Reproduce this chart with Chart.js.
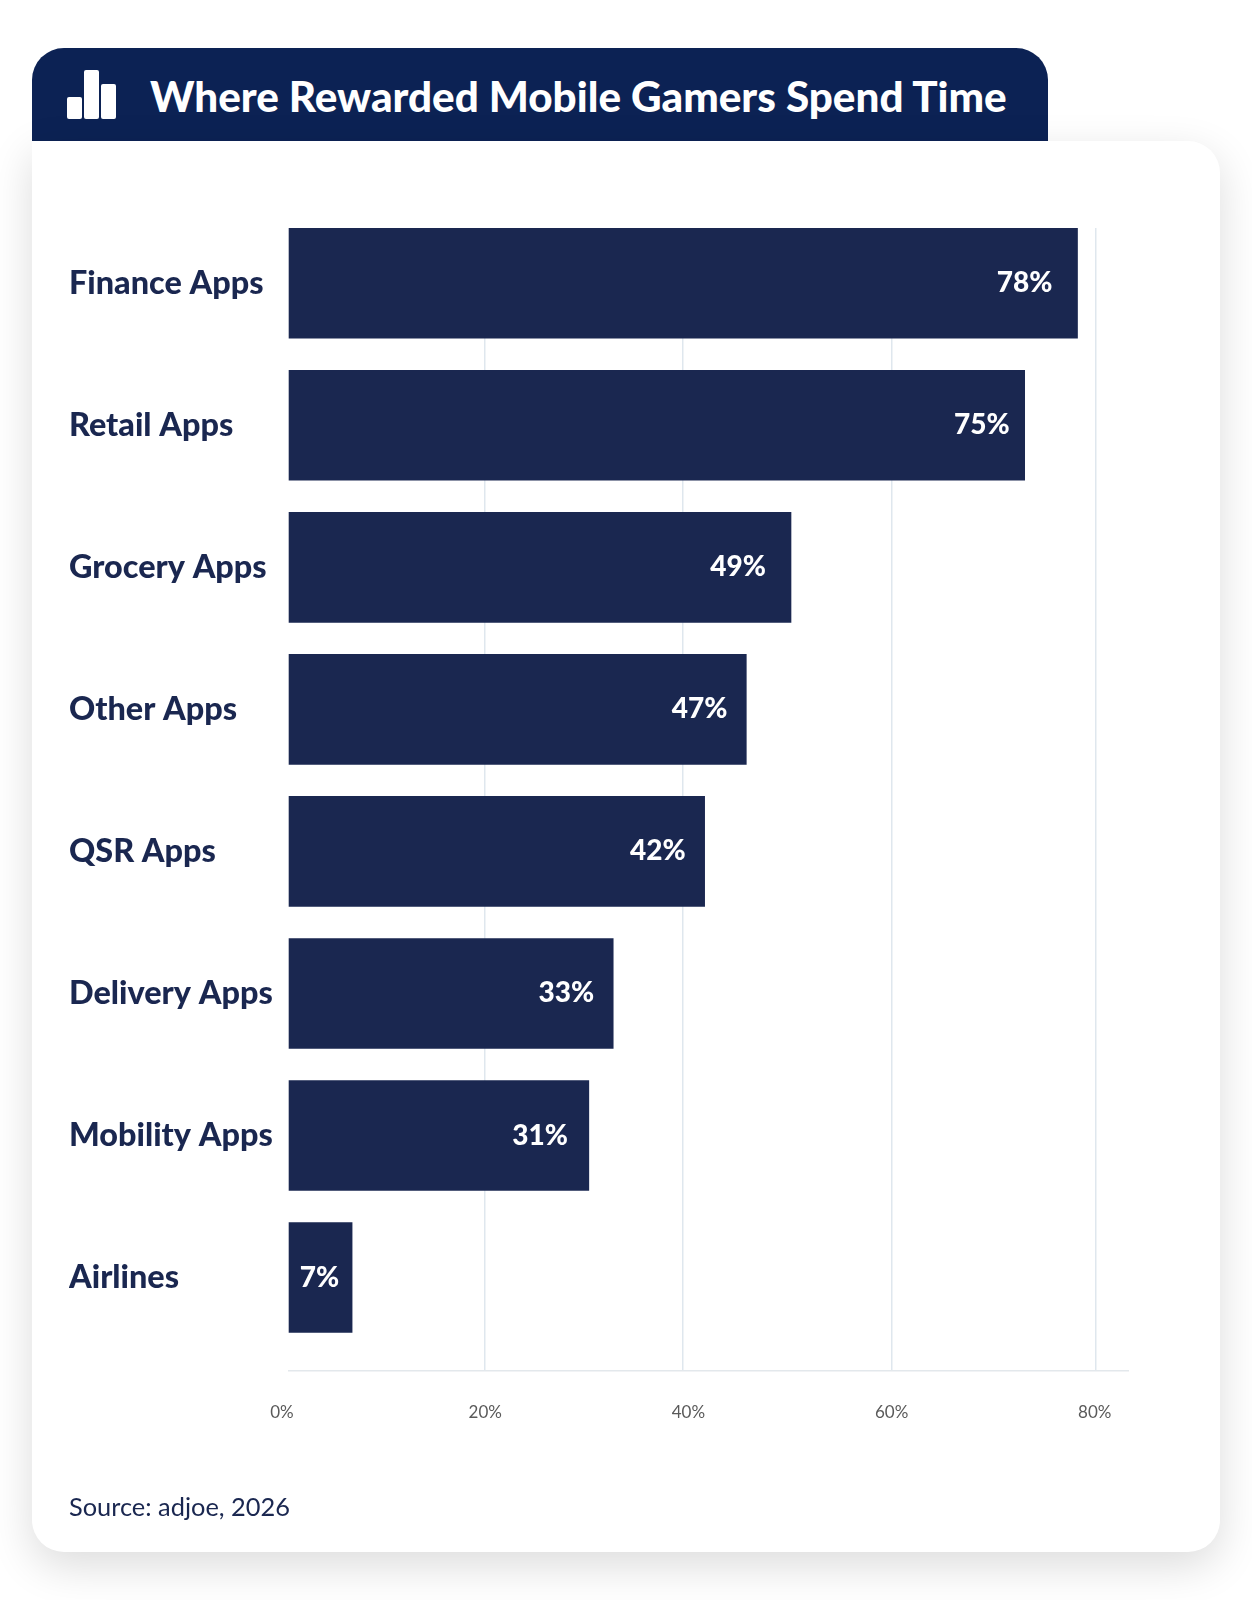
<!DOCTYPE html>
<html lang="en">
<head>
<meta charset="UTF-8">
<title>Where Rewarded Mobile Gamers Spend Time</title>
<style>
    html, body { margin: 0; background: #fff; }
    #page { position: relative; width: 1252px; height: 1600px; overflow: hidden; font-family: Lato, sans-serif; }
    .tab { position: absolute; left: 32px; top: 48px; width: 1016px; height: 93px; background: #0c2254; border-radius: 32px 32px 0 0; }
    .tab h1 { position: absolute; left: 118px; top: 0; margin: 0; line-height: 96px; font-size: 42.2px; font-weight: 900; color: #fff; white-space: nowrap; }
    .icon span { position: absolute; bottom: 22px; width: 14.7px; background: #fff; border-radius: 2px; }
    .card { position: absolute; left: 32px; top: 141px; width: 1188px; height: 1411px; background: #fff; border-radius: 0 32px 32px 32px; box-shadow: 0 14px 44px rgba(0,0,0,0.14); }
    .source { position: absolute; left: 69px; top: 1491px; font-size: 25.4px; color: #1a2750; }
    canvas { position: absolute; left: 0; top: 0; }
</style>
</head>
<body>
<div id="page">
    <div class="tab">
        <div class="icon">
            <span style="left:35.3px;height:22px"></span>
            <span style="left:52px;height:49px"></span>
            <span style="left:69px;height:35px"></span>
        </div>
        <h1>Where Rewarded Mobile Gamers Spend Time</h1>
    </div>
    <div class="card"></div>
    <canvas id="bar_chart" width="1252" height="1600"></canvas>
    <div class="source">Source: adjoe, 2026</div>
</div>

<script src="https://cdn.jsdelivr.net/npm/chart.js"></script>
<script>
    const categories = ['Finance Apps', 'Retail Apps', 'Grocery Apps', 'Other Apps', 'QSR Apps', 'Delivery Apps', 'Mobility Apps', 'Airlines'];
    // the printed numbers and the drawn bar lengths differ in the picture, so both are kept
    const printed_values = [78, 75, 49, 47, 42, 33, 31, 7];
    const bar_lengths = [78.3, 73.1, 50.1, 45.7, 41.6, 32.6, 30.2, 6.9];
    const tick_values = [0, 20, 40, 60, 80];
    // the gridlines do not sit exactly on their labels in the picture
    const grid_values = [20, 39.4, 60, 80.1];

    const label_insets = [25, 15, 25, 19, 19, 19, 21, 13];
    const navy = '#1a2750';

    // writes the percentage inside the right end of each bar
    const bar_labels = {
        id: 'bar_labels',
        afterDatasetsDraw(chart) {
            const ctx = chart.ctx;
            ctx.save();
            ctx.fillStyle = '#fff';
            ctx.font = '900 28px Lato';
            ctx.textBaseline = 'middle';
            ctx.textAlign = 'right';
            chart.getDatasetMeta(0).data.forEach((bar, i) => {
                ctx.fillText(printed_values[i] + '%', bar.x - label_insets[i], bar.y);
            });
            ctx.restore();
        }
    };

    new Chart(document.getElementById('bar_chart'), {
        type: 'bar',
        data: {
            datasets: [{
                data: bar_lengths.map((v, i) => ({ x: v, y: i })),
                backgroundColor: navy,
                barThickness: 110
            }]
        },
        plugins: [bar_labels],
        options: {
            indexAxis: 'y',
            responsive: false,
            animation: false,
            layout: { padding: { left: 69, right: 124, top: 228, bottom: 0 } },
            plugins: { legend: { display: false }, tooltip: { enabled: false } },
            scales: {
                x: {
                    type: 'linear',
                    min: 0.66,
                    max: 83.27,
                    weight: 1,
                    afterBuildTicks(axis) { axis.ticks = tick_values.map(v => ({ value: v })); },
                    afterFit(axis) { axis.height = 229; },
                    border: { color: '#e3e8ec', width: 1.5 },
                    grid: { display: false },
                    ticks: {
                        autoSkip: false,
                        maxRotation: 0,
                        padding: 23,
                        color: '#5a5a5a',
                        font: { family: 'Lato', size: 17 },
                        callback: v => v + '%'
                    }
                },
                grid_x: {
                    type: 'linear',
                    position: 'bottom',
                    min: 0.66,
                    max: 83.27,
                    weight: 0,
                    afterBuildTicks(axis) { axis.ticks = grid_values.map(v => ({ value: v })); },
                    afterFit(axis) { axis.height = 0; },
                    border: { display: false },
                    grid: { drawTicks: false, lineWidth: 1.5, color: '#dfe7ee' },
                    ticks: { display: false }
                },
                y: {
                    type: 'linear',
                    reverse: true,
                    offset: false,
                    min: -0.389,
                    max: 7.658,
                    afterBuildTicks(axis) { axis.ticks = categories.map((c, i) => ({ value: i })); },
                    afterFit(axis) { axis.width = 219.7; },
                    border: { display: false },
                    grid: { display: false },
                    ticks: {
                        autoSkip: false,
                        crossAlign: 'far',
                        color: navy,
                        font: { family: 'Lato', size: 32.4, weight: '900' },
                        callback: v => categories[v]
                    }
                }
            }
        }
    });
</script>
</body>
</html>
